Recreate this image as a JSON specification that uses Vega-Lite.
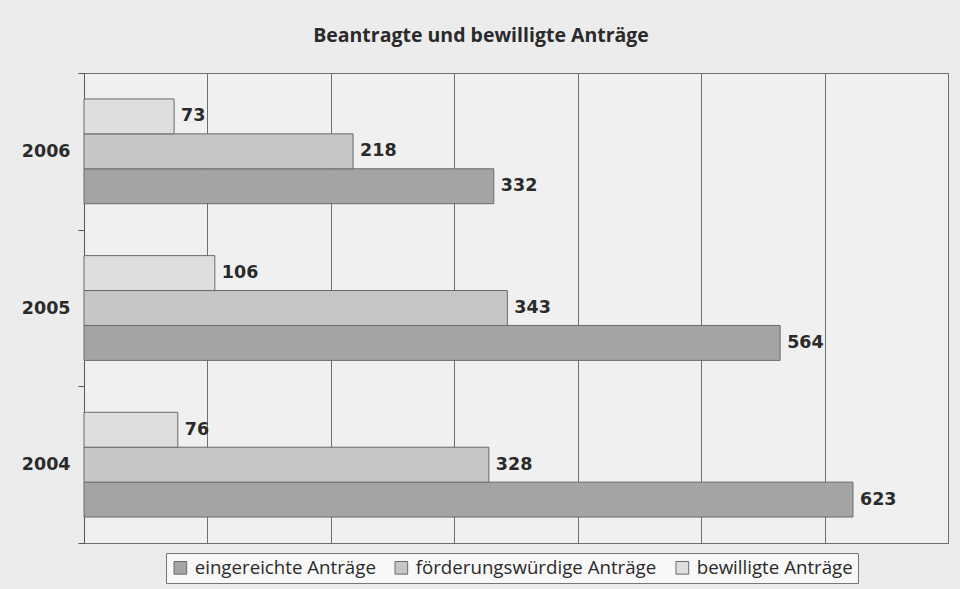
{
  "$schema": "https://vega.github.io/schema/vega-lite/v6.json",
  "width": 864,
  "height": 470,
  "autosize": {"type": "none"},
  "padding": {"left": 84, "top": 73, "right": 12, "bottom": 46},
  "background": "#ececec",
  "title": {
    "text": "Beantragte und bewilligte Anträge",
    "font": "Open Sans",
    "fontSize": 19.5,
    "fontWeight": "bold",
    "color": "#2a2a2a",
    "anchor": "middle",
    "dx": -35,
    "offset": 18
  },
  "data": {
    "values": [
      {"Jahr": "2006", "Kategorie": "eingereichte Anträge", "Anzahl": 332},
      {"Jahr": "2006", "Kategorie": "förderungswürdige Anträge", "Anzahl": 218},
      {"Jahr": "2006", "Kategorie": "bewilligte Anträge", "Anzahl": 73},
      {"Jahr": "2005", "Kategorie": "eingereichte Anträge", "Anzahl": 564},
      {"Jahr": "2005", "Kategorie": "förderungswürdige Anträge", "Anzahl": 343},
      {"Jahr": "2005", "Kategorie": "bewilligte Anträge", "Anzahl": 106},
      {"Jahr": "2004", "Kategorie": "eingereichte Anträge", "Anzahl": 623},
      {"Jahr": "2004", "Kategorie": "förderungswürdige Anträge", "Anzahl": 328},
      {"Jahr": "2004", "Kategorie": "bewilligte Anträge", "Anzahl": 76}
    ]
  },
  "encoding": {
    "y": {
      "field": "Jahr",
      "type": "nominal",
      "sort": ["2006", "2005", "2004"],
      "scale": {"paddingInner": 0, "paddingOuter": 0},
      "axis": {
        "title": null,
        "tickBand": "extent",
        "tickSize": 6,
        "tickColor": "#555",
        "domainColor": "#555",
        "labelFont": "DejaVu Sans",
        "labelFontSize": 17.5,
        "labelFontWeight": "bold",
        "labelColor": "#2a2a2a",
        "labelPadding": 8,
        "grid": false
      }
    },
    "yOffset": {
      "field": "Kategorie",
      "type": "nominal",
      "sort": ["bewilligte Anträge", "förderungswürdige Anträge", "eingereichte Anträge"],
      "scale": {"paddingInner": 0, "paddingOuter": 0.743}
    },
    "x": {
      "field": "Anzahl",
      "type": "quantitative",
      "scale": {"domain": [0, 700], "nice": false},
      "axis": {
        "title": null,
        "labels": false,
        "ticks": false,
        "domain": false,
        "values": [0, 100, 200, 300, 400, 500, 600, 700],
        "grid": true,
        "gridColor": "#6e6e6e",
        "gridOpacity": 1,
        "gridWidth": 1
      }
    }
  },
  "layer": [
    {
      "mark": {"type": "bar", "stroke": "#6a6a6a", "strokeWidth": 1, "cornerRadius": 0},
      "encoding": {
        "color": {
          "field": "Kategorie",
          "type": "nominal",
          "sort": ["eingereichte Anträge", "förderungswürdige Anträge", "bewilligte Anträge"],
          "scale": {
            "domain": ["eingereichte Anträge", "förderungswürdige Anträge", "bewilligte Anträge"],
            "range": ["#a4a4a4", "#c6c6c6", "#dedede"]
          },
          "legend": {
            "title": null,
            "orient": "none",
            "legendX": 82,
            "legendY": 480,
            "direction": "horizontal",
            "symbolType": "square",
            "symbolSize": 160,
            "symbolStrokeColor": "#6a6a6a",
            "symbolStrokeWidth": 1,
            "symbolOpacity": 1,
            "labelFont": "Open Sans",
            "labelFontSize": 18.7,
            "labelColor": "#2a2a2a",
            "labelOffset": 5,
            "labelLimit": 0,
            "columnPadding": 16,
            "fillColor": "#f8f8f8",
            "strokeColor": "#777777",
            "padding": 5
          }
        }
      }
    },
    {
      "mark": {
        "type": "text",
        "align": "left",
        "baseline": "middle",
        "dx": 7,
        "font": "DejaVu Sans",
        "fontSize": 17.5,
        "fontWeight": "bold",
        "color": "#2a2a2a"
      },
      "encoding": {
        "text": {"field": "Anzahl", "type": "quantitative"}
      }
    }
  ],
  "config": {
    "view": {"stroke": "#6e6e6e", "strokeWidth": 1, "fill": "#f0f0f0"}
  }
}
